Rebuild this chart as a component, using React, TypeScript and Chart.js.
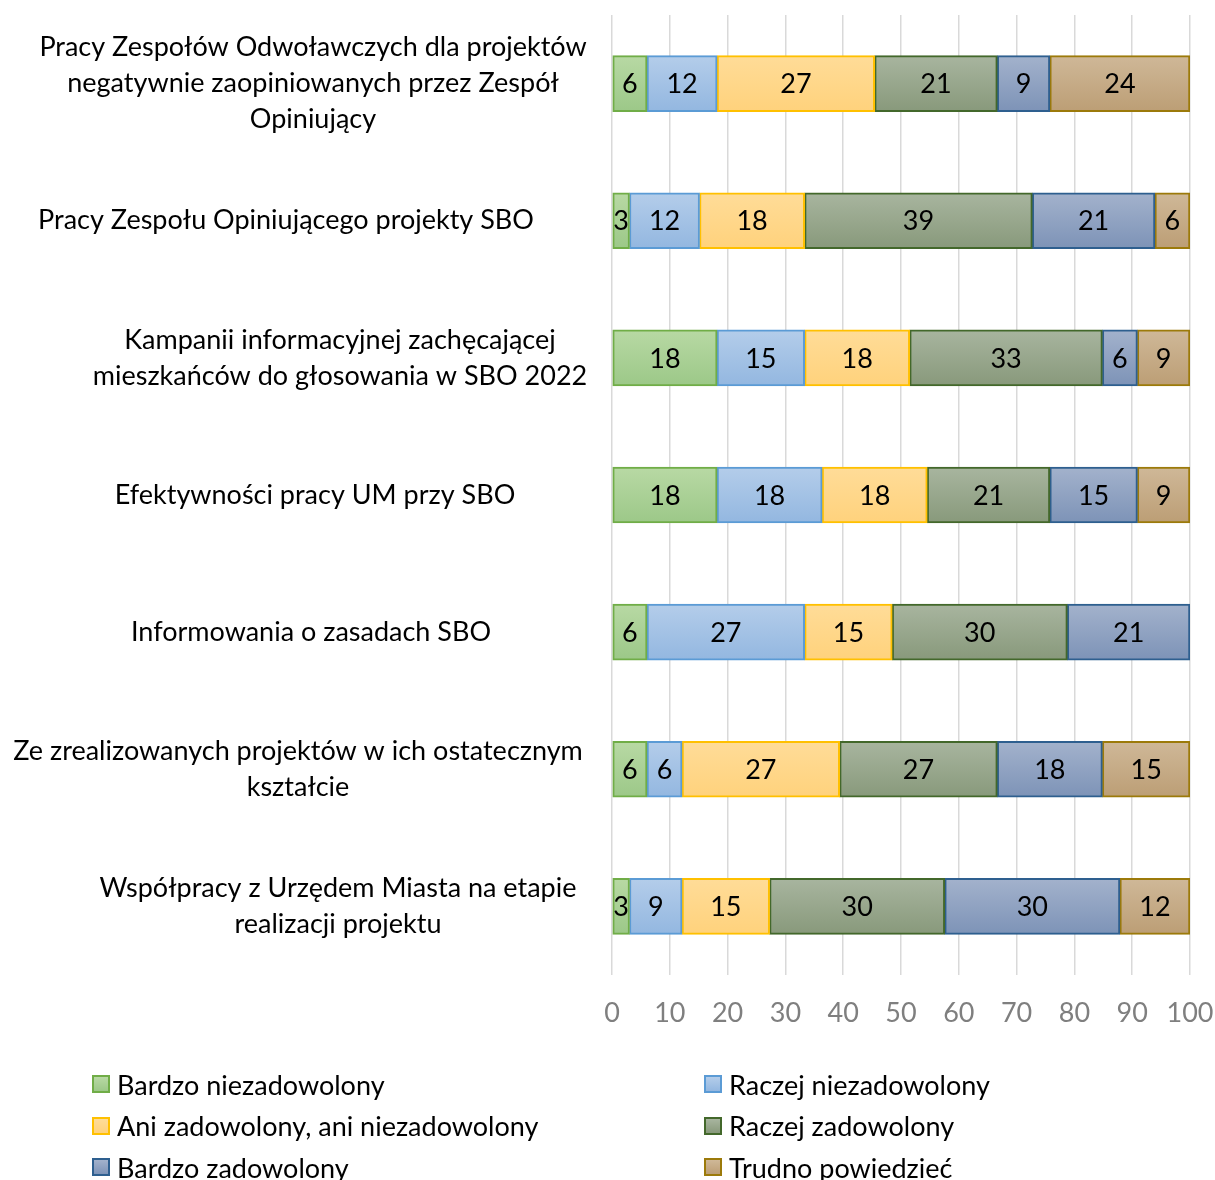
import React, { useEffect, useRef } from "react";
import { Chart, registerables } from "chart.js";

Chart.register(...registerables);

const categories: string[][] = [
  ["Pracy Zespołów Odwoławczych dla projektów", "negatywnie zaopiniowanych przez Zespół", "Opiniujący"],
  ["Pracy Zespołu Opiniującego projekty SBO"],
  ["Kampanii informacyjnej zachęcającej", "mieszkańców do głosowania w SBO 2022"],
  ["Efektywności pracy UM przy SBO"],
  ["Informowania o zasadach SBO"],
  ["Ze zrealizowanych projektów w ich ostatecznym", "kształcie"],
  ["Współpracy z Urzędem Miasta na etapie", "realizacji projektu"],
];

const seriesNames: string[] = [
  "Bardzo niezadowolony",
  "Raczej niezadowolony",
  "Ani zadowolony, ani niezadowolony",
  "Raczej zadowolony",
  "Bardzo zadowolony",
  "Trudno powiedzieć",
];

const bardzoNiezadowolony: number[] = [6.06, 3.03, 18.18, 18.18, 6.06, 6.06, 3.03];
const raczejNiezadowolony: number[] = [12.12, 12.12, 15.15, 18.18, 27.27, 6.06, 9.09];
const aniAni: number[] = [27.27, 18.18, 18.18, 18.18, 15.15, 27.27, 15.15];
const raczejZadowolony: number[] = [21.21, 39.39, 33.33, 21.21, 30.3, 27.27, 30.3];
const bardzoZadowolony: number[] = [9.09, 21.21, 6.06, 15.15, 21.21, 18.18, 30.3];
const trudnoPowiedziec: number[] = [24.24, 6.06, 9.09, 9.09, 0, 15.15, 12.12];

const seriesValues: number[][] = [
  bardzoNiezadowolony,
  raczejNiezadowolony,
  aniAni,
  raczejZadowolony,
  bardzoZadowolony,
  trudnoPowiedziec,
];

const xTicks: number[] = [0, 10, 20, 30, 40, 50, 60, 70, 80, 90, 100];

// styles (kept separate from data)
const seriesStyles = [
  { top: "#b8d9a4", bottom: "#9cc888", border: "#70ad47" },
  { top: "#b4cdea", bottom: "#93b7e0", border: "#5b9bd5" },
  { top: "#ffdc98", bottom: "#ffd27c", border: "#ffc000" },
  { top: "#a8b59f", bottom: "#88997b", border: "#43682b" },
  { top: "#a3b2cc", bottom: "#7d93b7", border: "#2e5f8f" },
  { top: "#cfb898", bottom: "#bc9e75", border: "#9c7a0a" },
];
const labelCenterX = [313, 286, 340, 315, 311, 298, 338];
const FONT = "Lato, 'Open Sans', sans-serif";
const FS = 27;
const LINE_H = 36;

const barValueLabels = {
  id: "barValueLabels",
  afterDatasetsDraw(chart: any) {
    const ctx = chart.ctx;
    ctx.save();
    ctx.font = `${FS}px ${FONT}`;
    ctx.fillStyle = "#000000";
    ctx.textAlign = "center";
    ctx.textBaseline = "middle";
    chart.data.datasets.forEach((ds: any, di: number) => {
      const meta = chart.getDatasetMeta(di);
      meta.data.forEach((bar: any, i: number) => {
        const v = ds.data[i];
        if (!v) return;
        const cx = (bar.x + bar.base) / 2;
        ctx.fillText(String(Math.round(v)), cx, bar.y + 1);
      });
    });
    ctx.restore();
  },
};

const categoryLabels = {
  id: "categoryLabels",
  afterDraw(chart: any) {
    const ctx = chart.ctx;
    const yScale = chart.scales.y;
    ctx.save();
    ctx.font = `${FS}px ${FONT}`;
    ctx.fillStyle = "#000000";
    ctx.textAlign = "center";
    ctx.textBaseline = "middle";
    categories.forEach((lines, i) => {
      const cy = yScale.getPixelForValue(i);
      const start = cy - ((lines.length - 1) * LINE_H) / 2;
      lines.forEach((ln, k) => {
        ctx.fillText(ln, labelCenterX[i], start + k * LINE_H);
      });
    });
    ctx.restore();
  },
};

function makeGradient(c: any, di: number) {
  const st = seriesStyles[di];
  const chart = c.chart;
  const yScale = chart.scales && chart.scales.y;
  if (!chart.chartArea || !yScale) return st.top;
  const y = yScale.getPixelForValue(c.dataIndex);
  const g = chart.ctx.createLinearGradient(0, y - 28, 0, y + 28);
  g.addColorStop(0, st.top);
  g.addColorStop(1, st.bottom);
  return g;
}

function Legend() {
  const items = seriesNames.map((name, i) => ({ name, st: seriesStyles[i], i }));
  return (
    <div style={{ position: "absolute", left: 0, top: 0, width: 1215, height: 1180, pointerEvents: "none" }}>
      {items.map(({ name, st, i }) => {
        const col = i % 2;
        const row = Math.floor(i / 2);
        return (
          <div
            key={name}
            style={{
              position: "absolute",
              left: col === 0 ? 92 : 704,
              top: 1085 + row * 41.5 - 21,
              height: 40,
              display: "flex",
              alignItems: "center",
              whiteSpace: "nowrap",
              fontFamily: FONT,
              fontSize: FS,
              color: "#000",
            }}
          >
            <span
              style={{
                display: "inline-block",
                width: 14,
                height: 14,
                border: `2px solid ${st.border}`,
                background: `linear-gradient(${st.top}, ${st.bottom})`,
                marginRight: 7,
              }}
            />
            <span>{name}</span>
          </div>
        );
      })}
    </div>
  );
}

export default function App() {
  const ref = useRef<HTMLCanvasElement | null>(null);

  useEffect(() => {
    const canvas = ref.current;
    if (!canvas) return;
    const chart = new Chart(canvas, {
      type: "bar",
      data: {
        labels: categories.map((l) => l.join(" ")),
        datasets: seriesNames.map((name, di) => ({
          label: name,
          data: seriesValues[di],
          backgroundColor: (c: any) => makeGradient(c, di),
          borderColor: seriesStyles[di].border,
          borderWidth: 2,
          borderSkipped: false,
          barThickness: 56,
        })),
      },
      options: {
        indexAxis: "y",
        responsive: false,
        maintainAspectRatio: false,
        animation: false,
        layout: { padding: { left: 0, right: 25, top: 15, bottom: 145 } },
        plugins: {
          legend: { display: false },
          tooltip: { enabled: false },
          title: { display: false },
        },
        scales: {
          x: {
            stacked: true,
            min: 0,
            max: 100,
            afterBuildTicks: (s: any) => {
              s.ticks = xTicks.map((v) => ({ value: v }));
            },
            afterFit: (s: any) => {
              s.height = 60;
            },
            grid: {
              color: "#d9d9d9",
              lineWidth: 1.5,
              drawTicks: true,
              tickLength: 22,
              tickColor: "rgba(0,0,0,0)",
            },
            border: { display: false },
            ticks: {
              color: "#7f7f7f",
              font: { family: FONT, size: FS },
              padding: 0,
              maxRotation: 0,
            },
          },
          y: {
            stacked: true,
            afterFit: (s: any) => {
              s.width = 612;
            },
            grid: { display: false },
            border: { display: false },
            ticks: { display: false },
          },
        },
      } as any,
      plugins: [barValueLabels, categoryLabels],
    });
    return () => chart.destroy();
  }, []);

  return (
    <div style={{ position: "absolute", left: 0, top: 0, width: 1215, height: 1180, background: "#fff", overflow: "hidden" }}>
      <canvas ref={ref} width={1215} height={1180} style={{ display: "block" }} />
      <Legend />
    </div>
  );
}
